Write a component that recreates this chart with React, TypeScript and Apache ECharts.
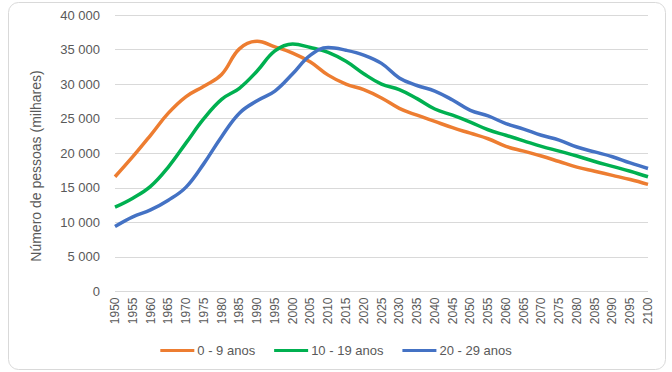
import React, { useEffect, useRef } from "react";
import * as echarts from "echarts";

const years = [1950, 1955, 1960, 1965, 1970, 1975, 1980, 1985, 1990, 1995, 2000, 2005, 2010, 2015, 2020, 2025, 2030, 2035, 2040, 2045, 2050, 2055, 2060, 2065, 2070, 2075, 2080, 2085, 2090, 2095, 2100];

const age0to9 = [16600, 19500, 22600, 25800, 28200, 29700, 31400, 35100, 36200, 35400, 34500, 33200, 31300, 30000, 29200, 28000, 26500, 25500, 24600, 23700, 22900, 22100, 21000, 20300, 19600, 18800, 18000, 17400, 16800, 16200, 15500];
const age10to19 = [12200, 13500, 15200, 18000, 21500, 25000, 27800, 29400, 31900, 34800, 35800, 35300, 34600, 33300, 31500, 30000, 29200, 27900, 26400, 25500, 24500, 23400, 22600, 21800, 21000, 20300, 19600, 18800, 18100, 17400, 16600];
const age20to29 = [9400, 10800, 11800, 13200, 15100, 18500, 22400, 25800, 27600, 29000, 31500, 34200, 35300, 34900, 34200, 33000, 30900, 29800, 29000, 27700, 26200, 25400, 24300, 23500, 22600, 21900, 20900, 20200, 19500, 18600, 17800];

const seriesNames = ["0 - 9 anos", "10 - 19 anos", "20 - 29 anos"];
const seriesValues = [age0to9, age10to19, age20to29];
const seriesColors = ["#ED7D31", "#00B050", "#4472C4"];
const yTitle = "Número de pessoas (milhares)";

const fmt = (v: number) => String(v).replace(/\B(?=(\d{3})+(?!\d))/g, " ");
const FONT = "'Liberation Sans', Arial, sans-serif";

export default function App() {
  const ref = useRef<HTMLDivElement>(null);
  useEffect(() => {
    document.body.style.margin = "0";
    const chart = echarts.init(ref.current!, null, { renderer: "svg" });
    chart.setOption({
      animation: false,
      backgroundColor: "#ffffff",
      textStyle: { fontFamily: FONT },
      grid: { left: 115, right: 24, top: 15, bottom: 80.5 },
      xAxis: {
        type: "value",
        min: 1950,
        max: 2100,
        interval: 5,
        axisLine: { show: false },
        axisTick: { show: false },
        splitLine: { show: false },
        axisLabel: { rotate: 90, color: "#595959", fontSize: 12, margin: 6, fontFamily: FONT, formatter: (v: number) => String(v) },
      },
      yAxis: {
        type: "value",
        min: 0,
        max: 40000,
        interval: 5000,
        axisLine: { show: false },
        axisTick: { show: false },
        splitLine: { lineStyle: { color: "#D9D9D9", width: 1 } },
        axisLabel: { color: "#595959", fontSize: 13, margin: 15, formatter: (v: number) => fmt(v), fontFamily: FONT },
      },
      legend: {
        data: seriesNames,
        bottom: 10,
        left: "center",
        icon: "rect",
        itemWidth: 34,
        itemHeight: 3,
        itemGap: 19,
        textStyle: { color: "#595959", fontSize: 13, fontFamily: FONT, padding: [0, 0, 0, -2] },
      },
      graphic: [
        {
          type: "rect",
          shape: { x: 8.5, y: 2.5, width: 657, height: 367, r: 10 },
          style: { fill: "none", stroke: "#D9D9D9", lineWidth: 1 },
          silent: true,
        },
        {
          type: "text",
          x: 36,
          y: 166,
          rotation: Math.PI / 2,
          style: {
            text: yTitle,
            fill: "#595959",
            fontSize: 14,
            fontFamily: FONT,
            align: "center",
            verticalAlign: "middle",
          },
        },
      ],
      series: seriesNames.map((name, i) => ({
        name,
        type: "line",
        smooth: 0.4,
        showSymbol: false,
        symbol: "none",
        color: seriesColors[i],
        lineStyle: { color: seriesColors[i], width: 3.5 },
        data: years.map((y, k) => [y, seriesValues[i][k]]),
      })),
    });
    return () => chart.dispose();
  }, []);
  return <div ref={ref} style={{ width: 672, height: 372 }} />;
}
